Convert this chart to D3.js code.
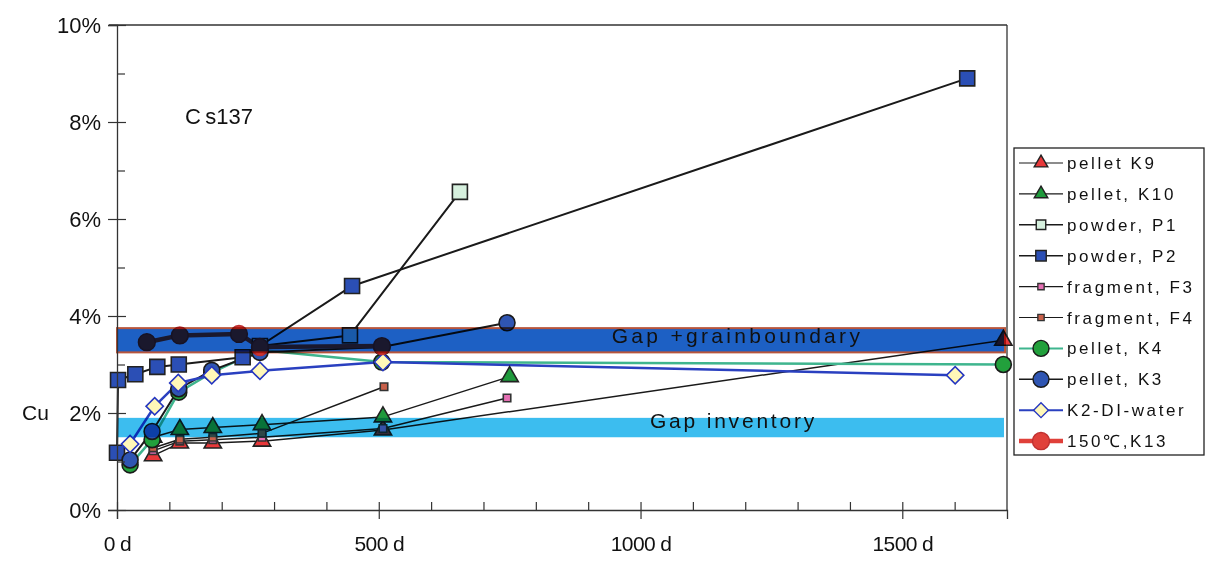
<!DOCTYPE html>
<html>
<head>
<meta charset="utf-8">
<script src="https://cdn.jsdelivr.net/npm/d3@7"></script>
<style>
  html, body { margin: 0; padding: 0; background: #ffffff; }
  svg { display: block; font-family: "Liberation Sans", Arial, sans-serif; background: #ffffff; }
</style>
</head>
<body>
<svg id="chart" width="1210" height="561"></svg>
<script>
// ---- data (days, Cu %) ----
const xTicks = [0, 500, 1000, 1500];
const xTickLabels = ["0 d", "500 d", "1000 d", "1500 d"];
const yTicks = [0, 2, 4, 6, 8, 10];
const yTickLabels = ["0%", "2%", "4%", "6%", "8%", "10%"];

const k9  = [[69,1.12],[120,1.38],[183,1.38],[277,1.42],[508,1.65],[1693,3.5]];
const k10 = [[69,1.5],[120,1.66],[183,1.7],[277,1.76],[508,1.92],[750,2.75]];
const p1  = [[273,3.38],[445,3.6],[655,6.56]];
const p2  = [[0,1.18],[2,2.68],[35,2.8],[77,2.95],[118,3.0],[240,3.15],[449,4.62],[1624,8.9]];
const f3  = [[69,1.22],[120,1.42],[183,1.45],[277,1.5],[508,1.68],[745,2.31]];
const f4  = [[69,1.28],[120,1.46],[183,1.5],[277,1.58],[510,2.54]];
const k4  = [[25,0.93],[67,1.45],[118,2.43],[181,2.83],[273,3.3],[506,3.05],[1693,3.0]];
const k3  = [[25,1.03],[67,1.62],[118,2.5],[181,2.88],[273,3.25],[506,3.36],[745,3.86]];
const k2  = [[25,1.36],[72,2.14],[117,2.62],[181,2.78],[273,2.87],[508,3.05],[1601,2.78]];
const k13 = [[57,3.46],[120,3.6],[233,3.63],[273,3.36],[506,3.38]];

const seriesNames = ["pellet K9","pellet, K10","powder, P1","powder, P2","fragment, F3","fragment, F4","pellet, K4","pellet, K3","K2-DI-water","150\u2103,K13"];

const gapGrain = [3.25, 3.75];
const gapInventory = [1.5, 1.9];

// ---- styles ----
const styles = [
  {data:k9,  shape:"tri",  size:130, fill:"#e8383a", stroke:"#222", line:"#1a1a1a", lw:1.5, lsize:80},
  {data:k10, shape:"tri",  size:130, fill:"#1f9a3c", stroke:"#222", line:"#1a1a1a", lw:1.5, lsize:80},
  {data:p1,  shape:"sq",   size:225, fill:"#d6f0de", stroke:"#222", line:"#1a1a1a", lw:2, lsize:90},
  {data:p2,  shape:"sq",   size:225, fill:"#2b4fb5", stroke:"#222", line:"#1a1a1a", lw:2, lsize:110},
  {data:f3,  shape:"sq",   size:56,  fill:"#e46fb3", stroke:"#333", line:"#1a1a1a", lw:1.5, lsize:40},
  {data:f4,  shape:"sq",   size:56,  fill:"#c8604a", stroke:"#333", line:"#1a1a1a", lw:1.5, lsize:40},
  {data:k4,  shape:"circ", size:200, fill:"#22a03c", stroke:"#1a1a1a", line:"#3fb58e", lw:2.5, lsize:200},
  {data:k3,  shape:"circ", size:200, fill:"#2f55b2", stroke:"#1a1a1a", line:"#1a1a1a", lw:2, lsize:200},
  {data:k2,  shape:"dia",  size:150, fill:"#fff8b8", stroke:"#2536c0", line:"#2a40c0", lw:2.5, lsize:110},
  {data:k13, shape:"circ", size:220, fill:"#e0403a", stroke:"#c03030", line:"#e0403a", lw:4.5, lsize:230}
];

const svg = d3.select("#chart");
const x = d3.scaleLinear().domain([0, 1700]).range([117, 1007]);
const y = d3.scaleLinear().domain([0, 10]).range([510, 25]);

function symbolPath(shape, size) {
  const t = shape === "tri" ? d3.symbolTriangle : shape === "circ" ? d3.symbolCircle : d3.symbolSquare;
  return d3.symbol().type(t).size(size)();
}
function symRotate(shape) { return shape === "dia" ? " rotate(45)" : ""; }

svg.append("rect").attr("width", 1210).attr("height", 561).attr("fill", "#fff");

// frame (top and right)
svg.append("line").attr("x1", x(0) - 8).attr("x2", x(1700)).attr("y1", y(10)).attr("y2", y(10))
  .attr("stroke", "#333").attr("stroke-width", 1.3);
svg.append("line").attr("x1", x(1700)).attr("x2", x(1700)).attr("y1", y(10)).attr("y2", y(0))
  .attr("stroke", "#333").attr("stroke-width", 1.3);

// series lines + markers
const lineGen = d3.line().x(d => x(d[0])).y(d => y(d[1]));
const plot = svg.append("g");
styles.forEach(s => {
  plot.append("path").attr("d", lineGen(s.data)).attr("fill", "none")
    .attr("stroke", s.line).attr("stroke-width", s.lw).attr("stroke-linejoin", "round");
});
styles.forEach(s => {
  plot.selectAll(null).data(s.data).enter().append("path")
    .attr("d", symbolPath(s.shape, s.size))
    .attr("transform", d => `translate(${x(d[0])},${y(d[1])})` + symRotate(s.shape))
    .attr("fill", s.fill).attr("stroke", s.stroke).attr("stroke-width", 1.6);
});

// bands (multiplied over the series, like an overprint)
svg.append("rect")
  .attr("x", x(0) + 1).attr("width", x(1700) - x(0) - 4)
  .attr("y", y(gapInventory[1])).attr("height", y(gapInventory[0]) - y(gapInventory[1]))
  .attr("fill", "#3cbdef").style("mix-blend-mode", "multiply");
svg.append("rect")
  .attr("x", x(0)).attr("width", x(1700) - x(0) - 2)
  .attr("y", y(gapGrain[1])).attr("height", y(gapGrain[0]) - y(gapGrain[1]))
  .attr("fill", "#1d60c4").style("mix-blend-mode", "multiply")
  .attr("stroke", "#b8553c").attr("stroke-width", 2);

// band labels
svg.append("text").attr("x", x(945)).attr("y", y(3.45)).attr("font-size", 21)
  .style("letter-spacing", "3.3px").attr("fill", "#111").text("Gap  +grainboundary");
svg.append("text").attr("x", x(1018)).attr("y", y(1.7)).attr("font-size", 21)
  .style("letter-spacing", "2.8px").attr("fill", "#111").text("Gap inventory");
svg.append("text").attr("x", x(130)).attr("y", y(7.95)).attr("font-size", 22)
  .attr("fill", "#111").text("C\u2009s137");

// y axis
const yAxis = svg.append("g").attr("transform", `translate(${x(0)},0)`)
  .call(d3.axisLeft(y).tickValues(yTicks).tickSize(9).tickFormat((d, i) => yTickLabels[i]));
yAxis.select(".domain").attr("stroke", "#333").attr("stroke-width", 1.3);
yAxis.selectAll(".tick line").attr("x1", -9).attr("x2", 9).attr("stroke", "#333").attr("stroke-width", 1.2);
yAxis.selectAll(".tick text").attr("font-size", 22).attr("x", -16)
  .attr("font-family", "Liberation Sans, Arial, sans-serif").attr("fill", "#111");
const yMinor = svg.append("g").attr("transform", `translate(${x(0)},0)`)
  .call(d3.axisRight(y).tickValues([1,3,5,7,9]).tickSize(8).tickFormat(""));
yMinor.select(".domain").remove();
yMinor.selectAll(".tick line").attr("stroke", "#333").attr("stroke-width", 1.2);

// x axis
const xAxis = svg.append("g").attr("transform", `translate(0,${y(0)})`)
  .call(d3.axisBottom(x).tickValues(xTicks).tickSize(9).tickFormat((d, i) => xTickLabels[i]));
xAxis.select(".domain").attr("stroke", "#333").attr("stroke-width", 1.3);
xAxis.selectAll(".tick line").attr("y1", -8).attr("y2", 9).attr("stroke", "#333").attr("stroke-width", 1.2);
xAxis.selectAll(".tick text").attr("font-size", 21).attr("y", 26).style("letter-spacing", "-0.6px")
  .attr("font-family", "Liberation Sans, Arial, sans-serif").attr("fill", "#111");
const xMinorVals = d3.range(100, 1700, 100).filter(v => v % 500 !== 0);
const xMinor = svg.append("g").attr("transform", `translate(0,${y(0)})`)
  .call(d3.axisTop(x).tickValues(xMinorVals).tickSize(8).tickFormat(""));
xMinor.select(".domain").remove();
xMinor.selectAll(".tick line").attr("stroke", "#333").attr("stroke-width", 1.2);

// y axis title
svg.append("text").attr("x", 22).attr("y", 420).attr("font-size", 21).attr("fill", "#111").text("Cu");

// legend
const lg = svg.append("g");
lg.append("rect").attr("x", 1014).attr("y", 148).attr("width", 190).attr("height", 307)
  .attr("fill", "#fff").attr("stroke", "#222").attr("stroke-width", 1.3);
styles.forEach((s, i) => {
  const ly = 163 + i * 30.9;
  lg.append("line").attr("x1", 1019).attr("x2", 1063).attr("y1", ly).attr("y2", ly)
    .attr("stroke", s.line).attr("stroke-width", Math.min(s.lw, 4.5) * (s.lw > 3 ? 1 : 0.8));
  lg.append("path").attr("d", symbolPath(s.shape, s.lsize))
    .attr("transform", `translate(1041,${ly})` + symRotate(s.shape))
    .attr("fill", s.fill).attr("stroke", s.stroke).attr("stroke-width", 1.4);
  lg.append("text").attr("x", 1067).attr("y", ly + 6).attr("font-size", 17)
    .style("letter-spacing", "2.6px").attr("fill", "#111").text(seriesNames[i]);
});
</script>
</body>
</html>
